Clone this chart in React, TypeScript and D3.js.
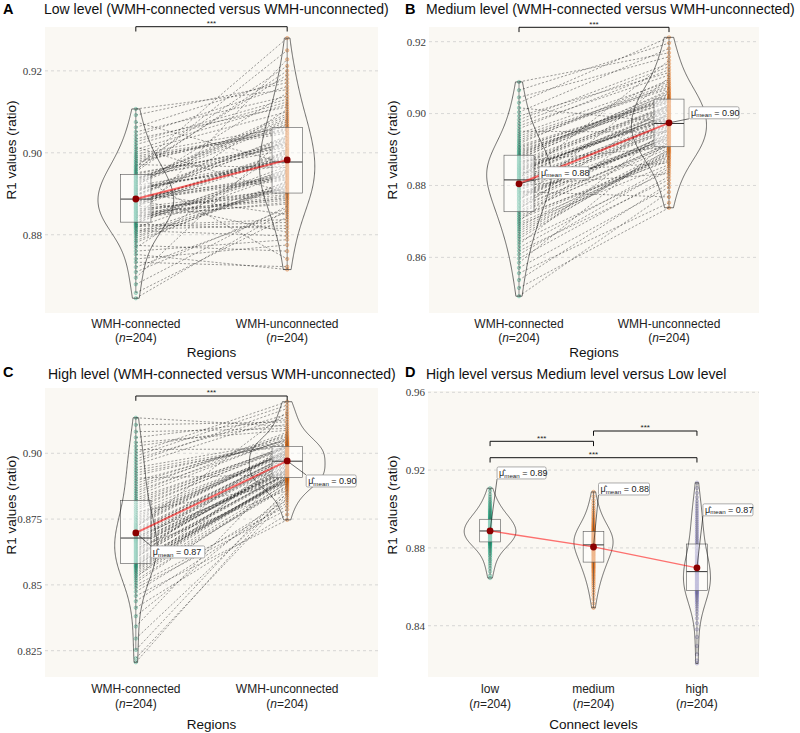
import React from 'react';
import * as d3 from 'd3';

// ---------- categories / text ----------
const REGIONS = ['WMH-connected', 'WMH-unconnected'];
const LEVELS = ['low', 'medium', 'high'];
const N_TEXT = '204';
const TITLES = [
  'Low level (WMH-connected versus WMH-unconnected)',
  'Medium level (WMH-connected versus WMH-unconnected)',
  'High level (WMH-connected versus WMH-unconnected)',
  'High level versus Medium level versus Low level',
];
const Y_TITLE = 'R1 values (ratio)';
const X_TITLES = ['Regions', 'Regions', 'Regions', 'Connect levels'];
const SIG = '***';

// ---------- tick values / labels ----------
const TICKS_A = [0.88, 0.9, 0.92];
const TICK_LABELS_A = ['0.88', '0.90', '0.92'];
const TICKS_B = [0.86, 0.88, 0.9, 0.92];
const TICK_LABELS_B = ['0.86', '0.88', '0.90', '0.92'];
const TICKS_C = [0.825, 0.85, 0.875, 0.9];
const TICK_LABELS_C = ['0.825', '0.85', '0.875', '0.90'];
const TICKS_D = [0.84, 0.88, 0.92, 0.96];
const TICK_LABELS_D = ['0.84', '0.88', '0.92', '0.96'];

// ---------- paired values (estimated from the figure) ----------
const lowConnected = [
  0.8645, 0.8658, 0.8679, 0.8695, 0.8709, 0.8721, 0.8733, 0.8741, 0.8752, 0.8760,
  0.8768, 0.8774, 0.8781, 0.8786, 0.8792, 0.8797, 0.8802, 0.8806, 0.8810, 0.8814,
  0.8817, 0.8820, 0.8823, 0.8825, 0.8828, 0.8830, 0.8833, 0.8835, 0.8838, 0.8840,
  0.8842, 0.8845, 0.8847, 0.8849, 0.8852, 0.8854, 0.8856, 0.8858, 0.8861, 0.8863,
  0.8865, 0.8867, 0.8869, 0.8872, 0.8874, 0.8876, 0.8878, 0.8880, 0.8882, 0.8884,
  0.8886, 0.8888, 0.8890, 0.8893, 0.8895, 0.8897, 0.8899, 0.8902, 0.8904, 0.8906,
  0.8909, 0.8911, 0.8913, 0.8916, 0.8918, 0.8920, 0.8923, 0.8925, 0.8928, 0.8930,
  0.8932, 0.8935, 0.8938, 0.8940, 0.8943, 0.8945, 0.8948, 0.8951, 0.8954, 0.8957,
  0.8960, 0.8964, 0.8967, 0.8971, 0.8975, 0.8979, 0.8983, 0.8988, 0.8992, 0.8997,
  0.9002, 0.9008, 0.9014, 0.9020, 0.9027, 0.9034, 0.9042, 0.9051, 0.9062, 0.9075,
  0.9092, 0.9107,
];
const lowUnconnected = [
  0.8860, 0.8843, 0.8870, 0.9045, 0.8865, 0.8855, 0.8722, 0.8775, 0.8715, 0.8788,
  0.9010, 0.8760, 0.8931, 0.8922, 0.8925, 0.8916, 0.8919, 0.8928, 0.8797, 0.8822,
  0.8949, 0.8830, 0.8837, 0.8815, 0.8961, 0.8952, 0.8967, 0.8955, 0.9228, 0.8958,
  0.8879, 0.8891, 0.8875, 0.8895, 0.8884, 0.8888, 0.8913, 0.8904, 0.8907, 0.8898,
  0.9106, 0.8910, 0.8988, 0.8998, 0.8991, 0.9001, 0.9004, 0.8994, 0.8943, 0.8934,
  0.8806, 0.8937, 0.8946, 0.8940, 0.9030, 0.9041, 0.9027, 0.8849, 0.9034, 0.9037,
  0.8985, 0.8976, 0.8979, 0.8970, 0.9146, 0.8982, 0.9071, 0.9085, 0.9076, 0.9090,
  0.9095, 0.9080, 0.9017, 0.9007, 0.9023, 0.8741, 0.9020, 0.9013, 0.9200, 0.9250,
  0.9190, 0.9280, 0.9212, 0.8964, 0.9067, 0.9056, 0.9059, 0.9048, 0.9052, 0.9063,
  0.9100, 0.9118, 0.8901, 0.9124, 0.9131, 0.9112, 0.9162, 0.9138, 0.9180, 0.8973,
  0.9171, 0.9154,
];
const mediumConnected = [
  0.8492, 0.8515, 0.8537, 0.8556, 0.8571, 0.8585, 0.8597, 0.8608, 0.8618, 0.8627,
  0.8636, 0.8644, 0.8652, 0.8659, 0.8666, 0.8673, 0.8679, 0.8685, 0.8691, 0.8696,
  0.8701, 0.8706, 0.8711, 0.8716, 0.8721, 0.8726, 0.8730, 0.8734, 0.8738, 0.8742,
  0.8746, 0.8750, 0.8754, 0.8758, 0.8762, 0.8765, 0.8769, 0.8773, 0.8776, 0.8780,
  0.8783, 0.8787, 0.8790, 0.8794, 0.8797, 0.8800, 0.8803, 0.8806, 0.8809, 0.8812,
  0.8814, 0.8817, 0.8820, 0.8822, 0.8825, 0.8828, 0.8830, 0.8833, 0.8835, 0.8838,
  0.8840, 0.8843, 0.8845, 0.8848, 0.8850, 0.8853, 0.8856, 0.8858, 0.8861, 0.8864,
  0.8867, 0.8870, 0.8873, 0.8876, 0.8879, 0.8882, 0.8885, 0.8888, 0.8892, 0.8895,
  0.8899, 0.8903, 0.8907, 0.8911, 0.8916, 0.8921, 0.8926, 0.8932, 0.8938, 0.8944,
  0.8951, 0.8958, 0.8966, 0.8974, 0.8983, 0.8993, 0.9004, 0.9016, 0.9030, 0.9045,
  0.9065, 0.9088,
];
const mediumUnconnected = [
  0.8782, 0.8738, 0.8806, 0.8752, 0.8795, 0.8923, 0.8825, 0.8847, 0.8816, 0.8853,
  0.8961, 0.8840, 0.8901, 0.8892, 0.8895, 0.8885, 0.8889, 0.8898, 0.8858, 0.8873,
  0.9003, 0.8877, 0.8881, 0.8868, 0.8913, 0.8904, 0.8918, 0.9027, 0.8916, 0.8910,
  0.8938, 0.8946, 0.8936, 0.9100, 0.8941, 0.8943, 0.8933, 0.8926, 0.8928, 0.8921,
  0.8768, 0.8931, 0.8951, 0.8958, 0.8953, 0.8833, 0.8963, 0.8956, 0.8974, 0.8966,
  0.8979, 0.8968, 0.9148, 0.8971, 0.9000, 0.9008, 0.8997, 0.9011, 0.8863, 0.9005,
  0.8995, 0.8987, 0.8989, 0.8981, 0.8984, 0.8992, 0.9013, 0.9021, 0.9016, 0.9024,
  0.8907, 0.9019, 0.9057, 0.9047, 0.9065, 0.9050, 0.9061, 0.9054, 0.9033, 0.9041,
  0.9030, 0.9044, 0.9035, 0.9038, 0.9094, 0.9078, 0.9083, 0.9069, 0.9073, 0.9088,
  0.8948, 0.9122, 0.9107, 0.9130, 0.9139, 0.9114, 0.9181, 0.8976, 0.9212, 0.9158,
  0.9196, 0.9169,
];
const highConnected = [
  0.8206, 0.8221, 0.8253, 0.8296, 0.8342, 0.8381, 0.8413, 0.8438, 0.8458, 0.8474,
  0.8488, 0.8499, 0.8509, 0.8518, 0.8526, 0.8533, 0.8540, 0.8546, 0.8552, 0.8557,
  0.8562, 0.8566, 0.8570, 0.8573, 0.8576, 0.8580, 0.8584, 0.8588, 0.8592, 0.8596,
  0.8600, 0.8604, 0.8608, 0.8612, 0.8616, 0.8620, 0.8624, 0.8628, 0.8632, 0.8636,
  0.8640, 0.8644, 0.8648, 0.8652, 0.8656, 0.8660, 0.8664, 0.8667, 0.8670, 0.8673,
  0.8676, 0.8680, 0.8683, 0.8687, 0.8691, 0.8695, 0.8699, 0.8703, 0.8708, 0.8713,
  0.8718, 0.8723, 0.8728, 0.8733, 0.8739, 0.8745, 0.8751, 0.8757, 0.8763, 0.8770,
  0.8777, 0.8784, 0.8791, 0.8798, 0.8806, 0.8814, 0.8822, 0.8830, 0.8839, 0.8848,
  0.8857, 0.8866, 0.8876, 0.8886, 0.8896, 0.8906, 0.8916, 0.8926, 0.8936, 0.8946,
  0.8957, 0.8968, 0.8979, 0.8990, 0.9002, 0.9014, 0.9027, 0.9041, 0.9060, 0.9082,
  0.9108, 0.9135,
];
const highUnconnected = [
  0.8853, 0.8831, 0.8864, 0.8839, 0.8946, 0.8846, 0.8768, 0.8812, 0.8747, 0.8822,
  0.8786, 0.8800, 0.8889, 0.8878, 0.9005, 0.8869, 0.8874, 0.8886, 0.8905, 0.8911,
  0.8907, 0.8913, 0.8975, 0.8909, 0.8899, 0.8892, 0.8903, 0.8895, 0.8901, 0.8897,
  0.9039, 0.8925, 0.8917, 0.8927, 0.8921, 0.8923, 0.8958, 0.8949, 0.8952, 0.8943,
  0.8859, 0.8955, 0.8929, 0.8935, 0.8931, 0.8937, 0.8940, 0.8933, 0.8972, 0.8961,
  0.8978, 0.8964, 0.8915, 0.8968, 0.8984, 0.8991, 0.8981, 0.8993, 0.8987, 0.8989,
  0.9158, 0.9011, 0.9013, 0.9007, 0.9009, 0.9015, 0.8995, 0.9001, 0.8997, 0.9003,
  0.8882, 0.8999, 0.9025, 0.9019, 0.9030, 0.9021, 0.9027, 0.9023, 0.9058, 0.9074,
  0.9054, 0.9080, 0.9063, 0.9068, 0.9050, 0.8919, 0.9042, 0.9033, 0.9036, 0.9046,
  0.9138, 0.9170, 0.9148, 0.9183, 0.9196, 0.9017, 0.9110, 0.9087, 0.9128, 0.9094,
  0.9119, 0.9102,
];

// ---------- styles ----------
const TEAL = '#1B9E77';
const ORANGE = '#D95F02';
const PURPLE = '#7570B3';
const BG = '#FAF8F3';
const SANS = "'Liberation Sans', Arial, Helvetica, sans-serif";
const SERIF = "'Liberation Serif', 'Times New Roman', Times, serif";
const BW_ADJUST = 1.3;

type Group = { name: string; values: number[]; color: string };
type Bracket = { a: number; b: number; y: number };
type PanelCfg = {
  letter: string; title: string; letterX: number; titleX: number; letterY: number; titleY: number;
  x0: number; x1: number; y0: number; y1: number; domain: [number, number];
  ticks: number[]; tickLabels: string[]; groups: Group[]; paired: boolean;
  labels: [number, number, number][] | null; brackets: Bracket[];
  yTitleX: number; yTitleY: number; xLabY: number; xTitle: string; xTitleY: number; pathW: number;
};

const panels: PanelCfg[] = [
  {
    letter: 'A', title: TITLES[0], letterX: 3, titleX: 44, letterY: 13.5, titleY: 14,
    x0: 45, x1: 378, y0: 27, y1: 313, domain: [0.8609, 0.9307],
    ticks: TICKS_A, tickLabels: TICK_LABELS_A,
    groups: [
      { name: REGIONS[0], values: lowConnected, color: TEAL },
      { name: REGIONS[1], values: lowUnconnected, color: ORANGE },
    ],
    paired: true, labels: null, brackets: [{ a: 0, b: 1, y: 26.7 }],
    yTitleX: 11, yTitleY: 150, xLabY: 327.6, xTitle: X_TITLES[0], xTitleY: 356.5, pathW: 2,
  },
  {
    letter: 'B', title: TITLES[1], letterX: 405, titleX: 426, letterY: 13.5, titleY: 14,
    x0: 429, x1: 759, y0: 27, y1: 313, domain: [0.84453, 0.92408],
    ticks: TICKS_B, tickLabels: TICK_LABELS_B,
    groups: [
      { name: REGIONS[0], values: mediumConnected, color: TEAL },
      { name: REGIONS[1], values: mediumUnconnected, color: ORANGE },
    ],
    paired: true, labels: [[20, -17, 50], [20, -16, 50]], brackets: [{ a: 0, b: 1, y: 27.3 }],
    yTitleX: 392.5, yTitleY: 150, xLabY: 327.6, xTitle: X_TITLES[1], xTitleY: 356.5, pathW: 2,
  },
  {
    letter: 'C', title: TITLES[2], letterX: 3, titleX: 48, letterY: 377, titleY: 378.5,
    x0: 45, x1: 378, y0: 388, y1: 677, domain: [0.815, 0.92481],
    ticks: TICKS_C, tickLabels: TICK_LABELS_C,
    groups: [
      { name: REGIONS[0], values: highConnected, color: TEAL },
      { name: REGIONS[1], values: highUnconnected, color: ORANGE },
    ],
    paired: true, labels: [[15, 13, 54], [19, 14, 50]], brackets: [{ a: 0, b: 1, y: 396 }],
    yTitleX: 11, yTitleY: 505, xLabY: 693.3, xTitle: X_TITLES[2], xTitleY: 728.8, pathW: 2,
  },
  {
    letter: 'D', title: TITLES[3], letterX: 405, titleX: 426, letterY: 377, titleY: 378.5,
    x0: 428, x1: 759, y0: 391, y1: 677, domain: [0.81362, 0.96067],
    ticks: TICKS_D, tickLabels: TICK_LABELS_D,
    groups: [
      { name: LEVELS[0], values: lowConnected, color: TEAL },
      { name: LEVELS[1], values: mediumConnected, color: ORANGE },
      { name: LEVELS[2], values: highConnected, color: PURPLE },
    ],
    paired: false, labels: [[7, -64, 49], [5, -64, 51], [6, -64, 50]],
    brackets: [{ a: 1, b: 2, y: 431 }, { a: 0, b: 1, y: 441.3 }, { a: 0, b: 2, y: 457.7 }],
    yTitleX: 392.5, yTitleY: 505, xLabY: 693.3, xTitle: X_TITLES[3], xTitleY: 728.5, pathW: 1.3,
  },
];

function nrd0(s: number[]) {
  const sd = d3.deviation(s) as number;
  const iqr = (d3.quantileSorted(s, 0.75) as number) - (d3.quantileSorted(s, 0.25) as number);
  return 0.9 * Math.min(sd, iqr / 1.34) * Math.pow(s.length, -0.2);
}

function kde(s: number[], bw: number) {
  const lo = s[0];
  const hi = s[s.length - 1];
  const m = 200;
  return d3.range(m).map((i) => {
    const v = lo + ((hi - lo) * i) / (m - 1);
    const d = (d3.mean(s, (x) => Math.exp(-0.5 * ((v - x) / bw) ** 2)) as number) / (bw * Math.sqrt(2 * Math.PI));
    return { v, d };
  });
}

const fmt2 = d3.format('.2f');

function Panel({ p }: { p: PanelCfg }) {
  const x = d3.scalePoint<string>().domain(p.groups.map((g) => g.name)).range([p.x0, p.x1]).padding(0.6);
  const y = d3.scaleLinear().domain(p.domain).range([p.y1, p.y0]);
  const step = x.step();
  const stats = p.groups.map((g) => {
    const s = g.values.slice().sort(d3.ascending);
    const q1 = d3.quantileSorted(s, 0.25) as number;
    const med = d3.quantileSorted(s, 0.5) as number;
    const q3 = d3.quantileSorted(s, 0.75) as number;
    const iqr = q3 - q1;
    const wlo = d3.min(s.filter((v) => v >= q1 - 1.5 * iqr)) as number;
    const whi = d3.max(s.filter((v) => v <= q3 + 1.5 * iqr)) as number;
    const mean = d3.mean(s) as number;
    const dens = kde(s, nrd0(s) * BW_ADJUST);
    return { g, q1, med, q3, wlo, whi, mean, dens, cx: x(g.name) as number };
  });
  const maxD = d3.max(stats, (st) => d3.max(st.dens, (d) => d.d)) as number;
  const half = step * 0.25;
  const boxW = step * 0.2;
  const area = (st: (typeof stats)[number]) =>
    d3
      .area<{ v: number; d: number }>()
      .curve(d3.curveBasis)
      .y((d) => y(d.v))
      .x0((d) => st.cx - (d.d / maxD) * half)
      .x1((d) => st.cx + (d.d / maxD) * half)(st.dens) as string;
  const meanLine = d3
    .line<(typeof stats)[number]>()
    .x((st) => st.cx)
    .y((st) => y(st.mean))(stats) as string;

  return (
    <g>
      <rect x={p.x0} y={p.y0} width={p.x1 - p.x0} height={p.y1 - p.y0} fill={BG} />
      {p.ticks.map((t, i) => (
        <g key={'t' + i}>
          <line x1={p.x0} x2={p.x1} y1={y(t)} y2={y(t)} stroke="#c9c9c9" strokeWidth={0.7} strokeDasharray="3,3" />
          <text x={p.x0 - 3} y={y(t)} dy="0.35em" textAnchor="end" fontFamily={SERIF} fontSize={11} fill="#3a3a3a">
            {p.tickLabels[i]}
          </text>
        </g>
      ))}
      {p.paired &&
        p.groups[0].values.map((v, i) => (
          <line
            key={'p' + i}
            x1={stats[0].cx}
            y1={y(v)}
            x2={stats[1].cx}
            y2={y(p.groups[1].values[i])}
            stroke="#1a1a1a"
            strokeOpacity={0.72}
            strokeWidth={0.6}
            strokeDasharray="2.2,1.8"
          />
        ))}
      {stats.map((st, gi) =>
        st.g.values.map((v, i) => (
          <circle
            key={'c' + gi + '-' + i}
            cx={st.cx}
            cy={y(v)}
            r={1.7}
            fill={st.g.color}
            fillOpacity={0.22}
            stroke={st.g.color}
            strokeOpacity={0.55}
            strokeWidth={0.6}
          />
        ))
      )}
      {stats.map((st, gi) => (
        <g key={'b' + gi}>
          <line x1={st.cx} x2={st.cx} y1={y(st.whi)} y2={y(st.q3)} stroke="#444" strokeWidth={0.6} />
          <line x1={st.cx} x2={st.cx} y1={y(st.q1)} y2={y(st.wlo)} stroke="#444" strokeWidth={0.6} />
          <rect x={st.cx - boxW / 2} y={y(st.q3)} width={boxW} height={y(st.q1) - y(st.q3)} fill="#fff" fillOpacity={0.5} stroke="#555" strokeWidth={0.6} />
          <line x1={st.cx - boxW / 2} x2={st.cx + boxW / 2} y1={y(st.med)} y2={y(st.med)} stroke="#333" strokeWidth={1} />
        </g>
      ))}
      {stats.map((st, gi) => (
        <path key={'v' + gi} d={area(st)} fill="none" stroke="#111" strokeWidth={0.6} />
      ))}
      <path d={meanLine} fill="none" stroke="red" strokeOpacity={0.55} strokeWidth={p.pathW} />
      {p.labels &&
        stats.map((st, gi) => {
          const [dx, dy] = (p.labels as [number, number, number][])[gi];
          const cy = y(st.mean);
          const bx = st.cx + dx;
          const by = cy + dy;
          const h = 12;
          const sy = dy < 0 ? by + h : by;
          return <line key={'s' + gi} x1={st.cx} y1={cy} x2={bx} y2={sy} stroke="#111" strokeWidth={0.6} />;
        })}
      {stats.map((st, gi) => (
        <circle key={'m' + gi} cx={st.cx} cy={y(st.mean)} r={3.4} fill="#8B0000" />
      ))}
      {p.labels &&
        stats.map((st, gi) => {
          const [dx, dy, w] = (p.labels as [number, number, number][])[gi];
          const cy = y(st.mean);
          const bx = st.cx + dx;
          const by = cy + dy;
          const h = 12;
          return (
            <g key={'l' + gi}>
              <rect x={bx} y={by} width={w} height={h} rx={1.5} fill="#fff" stroke="#8a8a8a" strokeWidth={0.7} />
              <text x={bx + 2} y={by + 8.8} fontFamily={SANS} fontSize={9} fill="#222">
                <tspan>{'\u03BC\u0302'}</tspan>
                <tspan fontSize={6.2} dy={1.8}>mean</tspan>
                <tspan dy={-1.8}>{' = ' + fmt2(st.mean)}</tspan>
              </text>
            </g>
          );
        })}
      {p.brackets.map((b, i) => {
        const xa = stats[b.a].cx;
        const xb = stats[b.b].cx;
        return (
          <g key={'br' + i}>
            <path d={`M${xa},${b.y + 4.8}V${b.y}H${xb}V${b.y + 4.8}`} fill="none" stroke="#111" strokeWidth={1} />
            <text x={(xa + xb) / 2} y={b.y - 0.6} textAnchor="middle" fontFamily={SANS} fontSize={8} fill="#222">
              {SIG}
            </text>
          </g>
        );
      })}
      {stats.map((st, gi) => (
        <g key={'xl' + gi} fontFamily={SANS} fontSize={12} fill="#222" textAnchor="middle">
          <text x={st.cx} y={p.xLabY}>{st.g.name}</text>
          <text x={st.cx} y={p.xLabY + 14.5}>
            (<tspan fontStyle="italic">n</tspan>={N_TEXT})
          </text>
        </g>
      ))}
      <text x={(p.x0 + p.x1) / 2} y={p.xTitleY} textAnchor="middle" fontFamily={SANS} fontSize={13.5} fill="#111">
        {p.xTitle}
      </text>
      <text
        transform={`translate(${p.yTitleX},${p.yTitleY}) rotate(-90)`}
        textAnchor="middle"
        dy="0.35em"
        fontFamily={SANS}
        fontSize={13.5}
        fill="#111"
      >
        {Y_TITLE}
      </text>
      <text x={p.letterX} y={p.letterY} fontFamily={SANS} fontWeight="bold" fontSize={14.5} fill="#000">
        {p.letter}
      </text>
      <text x={p.titleX} y={p.titleY} fontFamily={SANS} fontSize={14} fill="#111">
        {p.title}
      </text>
    </g>
  );
}

export default function App() {
  return (
    <svg
      width={800}
      height={733}
      viewBox="0 0 800 733"
      style={{ position: 'absolute', left: 0, top: 0, background: '#fff' }}
    >
      <rect x={0} y={0} width={800} height={733} fill="#fff" />
      {panels.map((p) => (
        <Panel key={p.letter} p={p} />
      ))}
    </svg>
  );
}
